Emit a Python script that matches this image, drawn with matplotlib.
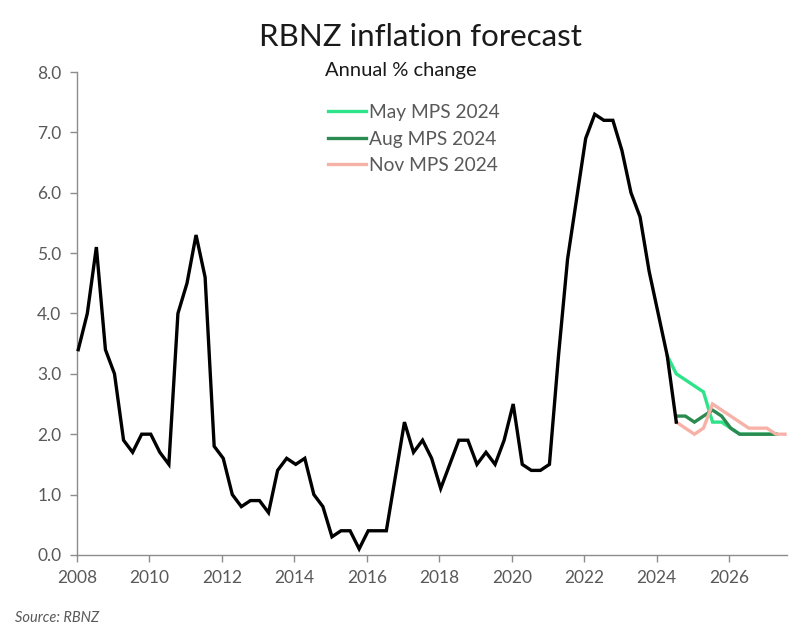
import matplotlib
matplotlib.use('Agg')
import matplotlib.pyplot as plt
import numpy as np

plt.rcParams['font.family'] = ['Lato', 'DejaVu Sans']

# Actual annual CPI inflation, quarterly from 2008 Q1 to 2024 Q3
actual_start = (2008, 1)
actual = [3.4, 4.0, 5.1, 3.4,
          3.0, 1.9, 1.7, 2.0,
          2.0, 1.7, 1.5, 4.0,
          4.5, 5.3, 4.6, 1.8,
          1.6, 1.0, 0.8, 0.9,
          0.9, 0.7, 1.4, 1.6,
          1.5, 1.6, 1.0, 0.8,
          0.3, 0.4, 0.4, 0.1,
          0.4, 0.4, 0.4, 1.3,
          2.2, 1.7, 1.9, 1.6,
          1.1, 1.5, 1.9, 1.9,
          1.5, 1.7, 1.5, 1.9,
          2.5, 1.5, 1.4, 1.4,
          1.5, 3.3, 4.9, 5.9,
          6.9, 7.3, 7.2, 7.2,
          6.7, 6.0, 5.6, 4.7,
          4.0, 3.3, 2.2]

# RBNZ forecasts (annual % change), quarterly
may_start = (2024, 2)
may_mps = [3.3, 3.0, 2.9, 2.8, 2.7, 2.2, 2.2, 2.1, 2.0, 2.0, 2.0, 2.0, 2.0]
aug_start = (2024, 3)
aug_mps = [2.3, 2.3, 2.2, 2.3, 2.4, 2.3, 2.1, 2.0, 2.0, 2.0, 2.0, 2.0]
nov_start = (2024, 3)
nov_mps = [2.2, 2.1, 2.0, 2.1, 2.5, 2.4, 2.3, 2.2, 2.1, 2.1, 2.1, 2.0, 2.0]

series_names = ['May MPS 2024', 'Aug MPS 2024', 'Nov MPS 2024']
series_colors = ['#2fe38a', '#2b8a4f', '#f7b2a8']

year_ticks = list(range(2008, 2027, 2))
y_ticks = [0, 1, 2, 3, 4, 5, 6, 7, 8]


def quarter_x(start, n):
    # quarter positions on a decimal-year axis
    y, q = start
    return y + (q - 1) / 4 + 0.04 + np.arange(n) / 4


fig = plt.figure(figsize=(8, 6.43), dpi=100)
ax = fig.add_axes([0.096, 0.137, 0.888, 0.751])

lw = 2.4
forecasts = [(may_start, may_mps), (aug_start, aug_mps), (nov_start, nov_mps)]
for i, ((start, vals), name, col) in enumerate(zip(forecasts, series_names, series_colors)):
    ax.plot(quarter_x(start, len(vals)), vals, color=col, lw=lw, label=name,
            zorder=2 + i, solid_joinstyle='miter')

ax.plot(quarter_x(actual_start, len(actual)), actual, color='black', lw=lw,
        zorder=6, solid_joinstyle='miter', clip_on=False)

ax.set_xlim(2008, 2027.6)
ax.set_ylim(0, 8)
ax.set_xticks(year_ticks)
ax.set_yticks(y_ticks)
ax.set_yticklabels([f'{v:.1f}' for v in y_ticks])

for s in ['top', 'right']:
    ax.spines[s].set_visible(False)
for s in ['left', 'bottom']:
    ax.spines[s].set_color('#8c8c8c')
    ax.spines[s].set_linewidth(1.0)
ax.tick_params(axis='both', direction='out', length=5, width=1.0, color='#8c8c8c',
               labelcolor='#595959', labelsize=12.5, pad=6)

fig.text(0.526, 0.942, 'RBNZ inflation forecast', ha='center', va='center',
         fontsize=22.5, color='#1a1a1a')
fig.text(0.501, 0.890, 'Annual % change', ha='center', va='center',
         fontsize=14.5, color='#1a1a1a')

ax.legend(loc='upper left', bbox_to_anchor=(328 / 800, 1 - 104 / 643),
          bbox_transform=fig.transFigure, frameon=False, fontsize=13.8,
          handlelength=2.0, handletextpad=0.15, labelspacing=0.5,
          borderpad=0, borderaxespad=0, labelcolor='#595959')

fig.text(0.019, 0.033, 'Source: RBNZ', fontsize=10.5, style='italic', color='#595959')

fig.savefig('out.png', dpi=100)
